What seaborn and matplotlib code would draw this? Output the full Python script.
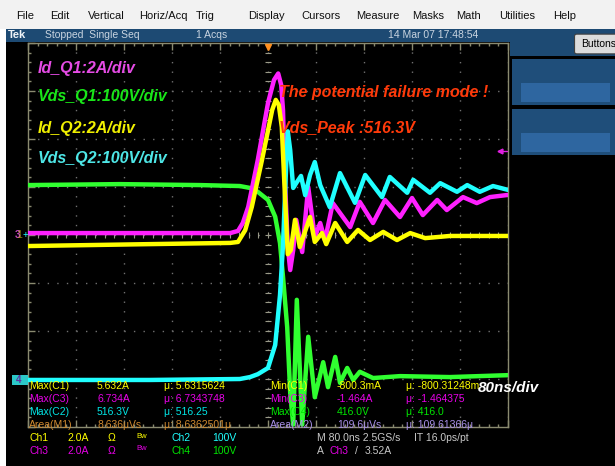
import matplotlib
matplotlib.use("Agg")
import matplotlib.pyplot as plt
from matplotlib.patches import Rectangle, FancyBboxPatch
import numpy as np
import seaborn as sns

# ---------------- data ----------------
# Ch4 : Vds_Q1 (V), 100 V/div
t_ch4 = [-400, -247, -113, -47, -30, -17, 0, 12, 20, 25, 32, 37, 42, 48, 57, 67, 78, 92, 100, 112,
         120, 132, 142, 153, 175, 220, 303, 400]
vds_q1 = [404, 406, 404, 402, 398, 390, 373, 338, 283, 213, 108, -29, -95, 165, -95, 88, -38, 35, -17, 46,
          -8, 23, -2, 15, 2, 6, 4, 8]

# Ch3 : Id_Q1 (A), 2 A/div
t_ch3 = [-400, -197, -63, -50, -42, -33, -17, 0, 10, 17, 22, 25, 28, 33, 37, 42, 47, 57, 67, 78, 87,
         95, 108, 137, 153, 175, 195, 220, 240, 258, 282, 298, 325, 348, 370, 400]
id_q1 = [0.08, 0.08, 0.08, 0.17, 0.5, 1.17, 3.13, 5.5, 6.46, 6.73, 6.25, 5.21, 2.42, -0.5, -1.46, -0.63,
         0.63, -0.71, 2.0, -0.08, 0.5, -0.21, 1.33, 0.33, 1.38, 0.5, 1.46, 0.75, 1.54, 0.83, 1.46, 1.04,
         1.58, 1.33, 1.58, 1.67]

# Ch2 : Vds_Q2 (V), 100 V/div
t_ch2 = [-400, -197, -47, -30, -17, 0, 12, 20, 25, 30, 33, 37, 42, 48, 55, 62, 70, 78, 87, 103,
         120, 145, 162, 190, 203, 232, 242, 270, 287, 315, 332, 353, 375, 400]
vds_q2 = [-2, -2, 0, 4, 10, 23, 71, 175, 279, 435, 516, 477, 398, 410, 423, 383, 425, 452, 404, 358,
          429, 367, 425, 379, 421, 388, 415, 388, 408, 390, 404, 390, 402, 394]

# Ch1 : Id_Q2 (A), 2 A/div
t_ch1 = [-400, -197, -63, -50, -38, -27, -10, 7, 13, 18, 23, 28, 33, 38, 45, 53, 70, 78, 90, 97, 112,
         132, 150, 170, 192, 215, 237, 262, 303, 400]
id_q2 = [-0.46, -0.38, -0.33, -0.29, 0.2, 1.17, 3.13, 5.21, 5.63, 5.42, 4.5, 1.75, -0.8, -0.63, 0.63,
         -0.5, 0.75, -0.29, 0.08, -0.38, 0.5, -0.29, 0.21, -0.21, 0.13, -0.21, 0.08, -0.13, -0.04, -0.04]

trigger_level_a = 3.52

channel_labels = ["Id_Q1:2A/div", "Vds_Q1:100V/div", "Id_Q2:2A/div", "Vds_Q2:100V/div"]
menu_items = ["File", "Edit", "Vertical", "Horiz/Acq", "Trig", "Display", "Cursors", "Measure",
              "Masks", "Math", "Utilities", "Help"]

meas_left_names = ["Max(C1)", "Max(C3)", "Max(C2)", "Area(M1)"]
meas_left_vals = ["5.632A", "6.734A", "516.3V", "8.636\u03bcVs"]
meas_left_means = ["\u03bc: 5.6315624", "\u03bc: 6.7343748", "\u03bc: 516.25", "\u03bc: 8.6362501\u03bc"]
meas_right_names = ["Min(C1)", "Min(C3)", "Max(C4)", "Area(M2)"]
meas_right_vals = ["-800.3mA", "-1.464A", "416.0V", "109.6\u03bcVs"]
meas_right_means = ["\u03bc: -800.31248m", "\u03bc: -1.464375", "\u03bc: 416.0", "\u03bc: 109.61366\u03bc"]

# ---------------- style ----------------
sns.set_theme(style="ticks")
plt.rcParams['font.family'] = ['Liberation Sans', 'DejaVu Sans']
plt.rcParams['lines.scale_dashes'] = False

YEL, MAG, CYA, GRN = '#ffff00', '#ff20ff', '#20ffff', '#30ff30'
W, H = 615, 466
fig = plt.figure(figsize=(W / 100, H / 100), dpi=100, facecolor='white')


def fx(x):
    return x / W


def fy(y):
    return 1 - y / H


def rect(x0, y0, x1, y1, color, z=-2):
    fig.add_artist(Rectangle((fx(x0), fy(y1)), (x1 - x0) / W, (y1 - y0) / H,
                             transform=fig.transFigure, facecolor=color,
                             edgecolor='none', zorder=z))


def txt(x, y, s, color, size=7.0, **kw):
    fig.text(fx(x), fy(y), s, color=color, fontsize=size, ha='left', va='center', **kw)


# backgrounds
rect(0, 0, 615, 29, '#f2f2f2')
rect(6, 29, 615, 466, 'black', z=-3)
rect(6, 29, 510, 42, '#1d4a73')
rect(510, 29, 615, 56, '#1d4a73')
rect(512, 59, 615, 105, '#1f4e7a')
rect(521, 83, 610, 102, '#2e66a0', z=-1)
rect(512, 109, 615, 155, '#1f4e7a')
rect(521, 133, 610, 152, '#2e66a0', z=-1)
fig.add_artist(FancyBboxPatch((fx(577), fy(52)), 45 / W, 16 / H, boxstyle="round,pad=0.004",
                              transform=fig.transFigure, facecolor='#dcdcdc',
                              edgecolor='#404040', linewidth=0.8, zorder=-1))
txt(581, 44, "Buttons", 'black', 7.5)

# menu bar
menu_x = [16, 50, 88, 139, 196, 248, 301, 356, 412, 456, 499, 553]
for mx, item in zip(menu_x, menu_items):
    txt(mx, 16, item, '#101010', 8)

# status bar
txt(8, 35, "Tek", '#f0f4f8', 8, weight='bold')
txt(45, 35, "Stopped  Single Seq", '#c8d4e0', 7.5)
txt(196, 35, "1 Acqs", '#c8d4e0', 7.5)
txt(388, 35, "14 Mar 07 17:48:54", '#c8d4e0', 7.5)

# ---------------- graticule ----------------
ax = fig.add_axes([fx(28), fy(427), 480 / W, 384 / H])
ax.set_facecolor('black')
ax.set_xticks(np.arange(-400, 401, 80))
ax.set_xticks(np.arange(-400, 401, 16), minor=True)
ax.set_yticks(np.arange(-4, 5, 1))
ax.set_yticks(np.arange(-4, 4.01, 0.2), minor=True)
ax.tick_params(which='both', direction='in', color='#8a8a70', width=1,
               top=True, right=True, bottom=True, left=True,
               labelbottom=False, labelleft=False)
ax.tick_params(which='major', length=5)
ax.tick_params(which='minor', length=2.5)
for s in ax.spines.values():
    s.set_color('#8a8a70')
    s.set_linewidth(1.0)
ax.grid(which='major', color='#707070', linestyle=(0, (1, 5.9)), linewidth=1.0)
ax.set_xlabel('')
ax.set_ylabel('')
xt = np.arange(-400, 401, 16)
yt = np.arange(-4, 4.01, 0.2)
ax.plot(xt, np.zeros_like(xt, dtype=float), ls='none', marker='|', ms=4, mew=0.8, color='#9a9a88')
ax.plot(np.zeros_like(yt), yt, ls='none', marker='_', ms=4, mew=0.8, color='#9a9a88')

# ---------------- traces ----------------
channels = [
    (t_ch4, vds_q1, (-100, 700), GRN),
    (t_ch3, id_q1, (-8, 8), MAG),
    (t_ch2, vds_q2, (-100, 700), CYA),
    (t_ch1, id_q2, (-8, 8), YEL),
]
chan_axes = []
for t, v, yl, col in channels:
    tw = ax.twinx()
    sns.lineplot(x=t, y=v, ax=tw, color=col, lw=3.2, estimator=None, sort=False, legend=False)
    tw.set_ylim(*yl)
    tw.axis('off')
    chan_axes.append(tw)
ax.set_xlim(-400, 400)
ax.set_ylim(-4, 4)

# trigger position marker and Ch3 trigger level arrow
ax.plot([0], [3.92], marker='v', color='#ff9020', ms=5, clip_on=False, zorder=10)
chan_axes[1].plot([384, 399], [trigger_level_a, trigger_level_a], color='#e020e0', lw=1)
chan_axes[1].plot([386], [trigger_level_a], marker='<', color='#e020e0', ms=3.5)

# left channel markers
txt(15, 235, "3", '#c040c0', 7.5, weight='bold')
txt(16, 235, "1", '#e0e000', 7.5, alpha=0.6)
txt(23, 235, "+", CYA, 7)
rect(12, 375, 28, 385, '#2cc8c8', z=5)
txt(16, 380, "4", '#6030a0', 7, weight='bold', zorder=6)

# ---------------- annotations ----------------
lab_y = [68, 97, 129, 158]
lab_c = ['#e64be6', '#19e619', '#f0f000', '#4ee6e6']
for y, s, c in zip(lab_y, channel_labels, lab_c):
    txt(38, y, s, c, 11.5, weight='bold', style='italic')
txt(279, 92, "The potential failure mode !", '#ff3a0a', 11.5, weight='bold', style='italic')
txt(279, 128, "Vds_Peak :516.3V", '#ff3a0a', 11.5, weight='bold', style='italic')

# measurements
row_y = [386, 399, 412, 425]
left_cols = [YEL, '#e600e6', '#00e6e6', '#d08a30']
right_cols = [YEL, '#e600e6', '#00e600', '#a890e8']
for i, y in enumerate(row_y):
    txt(29, y, meas_left_names[i], left_cols[i], 7.5)
    txt(97, y, meas_left_vals[i], left_cols[i], 7.5)
    txt(164, y, meas_left_means[i], left_cols[i], 7.5)
    txt(270, y, meas_right_names[i], right_cols[i], 7.5)
    txt(337, y, meas_right_vals[i], right_cols[i], 7.5)
    txt(406, y, meas_right_means[i], right_cols[i], 7.5)
txt(478, 388, "80ns/div", 'white', 11, weight='bold', style='italic')

# channel settings rows
for y, (c1, n1), (c2, n2) in [(438, (YEL, "Ch1"), (CYA, "Ch2")), (451, ('#e600e6', "Ch3"), ('#00e600', "Ch4"))]:
    txt(29, y, n1, c1, 7.5)
    txt(67, y, "2.0A", c1, 7.5)
    txt(108, y, "\u03a9", c1, 7.5)
    txt(136, y - 2, "Bw", c1, 5.5)
    txt(172, y, n2, c2, 7.5)
    txt(212, y, "100V", c2, 7.5)
txt(317, 438, "M 80.0ns 2.5GS/s", '#c8c8c8', 7.5)
txt(414, 438, "IT 16.0ps/pt", '#c8c8c8', 7.5)
txt(317, 451, "A", '#c8c8c8', 7.5)
txt(329, 451, "Ch3", '#e600e6', 7.5)
txt(355, 451, "/", '#c8c8c8', 7.5)
txt(365, 451, "3.52A", '#c8c8c8', 7.5)

fig.savefig("out.png", dpi=100, facecolor='white')
